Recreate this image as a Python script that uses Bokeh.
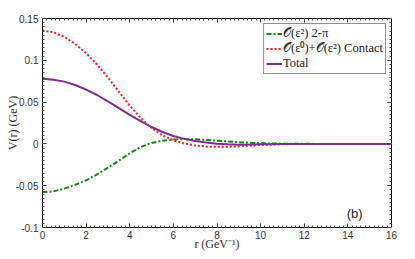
from bokeh.plotting import figure
from bokeh.models import LinearAxis, FixedTicker, Legend, LegendItem, Range1d, Label
from bokeh.embed import file_html
from bokeh.resources import INLINE

# radial distance r (GeV^-1)
r = [0, 0.5, 1, 1.5, 2, 2.5, 3, 3.5, 4, 4.5, 5, 5.5, 6, 6.5, 7, 7.5, 8, 8.5,
     9, 9.5, 10, 10.5, 11, 11.5, 12, 13, 14, 15, 16]

# O(eps^2) two-pion exchange
v_2pi = [-0.0578, -0.0568, -0.0535, -0.049, -0.0435, -0.0365, -0.0285, -0.02,
         -0.0112, -0.0038, 0.0012, 0.0038, 0.0053, 0.0058, 0.0055, 0.0048,
         0.0038, 0.0029, 0.002, 0.0013, 0.0008, 0.0005, 0.0003, 0.00015,
         0.00005, 0.0, 0.0, 0.0, 0.0]

# O(eps^0)+O(eps^2) contact
v_contact = [0.1356, 0.1335, 0.128, 0.1195, 0.1085, 0.095, 0.0795, 0.0625,
             0.0458, 0.031, 0.019, 0.0102, 0.0042, 0.0005, -0.0018, -0.0032,
             -0.0036, -0.0034, -0.0029, -0.0021, -0.0013, -0.0008, -0.0004,
             -0.00015, -0.00005, 0.0, 0.0, 0.0, 0.0]

# total
v_total = [0.0778, 0.0767, 0.0745, 0.0705, 0.065, 0.0585, 0.0508, 0.0428,
           0.0348, 0.0272, 0.0202, 0.0142, 0.0095, 0.006, 0.0035, 0.0016,
           0.0002, -0.0005, -0.0009, -0.0008, -0.0005, -0.0003, -0.0001,
           0.0, 0.0, 0.0, 0.0, 0.0, 0.0]

x_ticks = [0, 2, 4, 6, 8, 10, 12, 14, 16]
y_ticks = [-0.1, -0.05, 0, 0.05, 0.1, 0.15]
y_tick_labels = ["-0.1", "-0.05", "0", "0.05", "0.1", "0.15"]

x_minor = [i * 0.2 for i in range(81)]
y_minor = [-0.1 + i * 0.005 for i in range(51)]

p = figure(width=399, height=255, output_backend="svg",
           toolbar_location=None, x_range=Range1d(0, 16),
           y_range=Range1d(-0.1, 0.15),
           min_border_left=42, min_border_right=8, min_border_top=18,
           min_border_bottom=28)
p.outline_line_color = None
p.grid.grid_line_color = None
p.background_fill_color = "white"

l1 = p.line(r, v_2pi, line_color="#118811", line_width=2, line_dash="5 2 2 2")
l2 = p.line(r, v_contact, line_color="#ff1a1a", line_width=2, line_dash="2 2")
l3 = p.line(r, v_total, line_color="#7d2e8f", line_width=2)


def style(ax, labels=True):
    ax.axis_line_color = "black"
    ax.axis_line_width = 1
    ax.major_tick_in = 4
    ax.major_tick_out = 0
    ax.minor_tick_in = 2
    ax.minor_tick_out = 0
    ax.major_tick_line_color = "#333333"
    ax.minor_tick_line_color = "#555555"
    ax.major_label_text_font = "Liberation Sans"
    ax.major_label_text_font_size = "10px"
    ax.major_label_text_color = "#333333"
    ax.axis_label_text_font = "Liberation Serif"
    ax.axis_label_text_font_size = "12px"
    ax.axis_label_text_font_style = "normal"
    ax.axis_label_text_color = "#333333"
    if not labels:
        ax.major_label_text_font_size = "0px"
        ax.major_label_text_color = None
        ax.major_label_standoff = 0


xax = p.xaxis[0]
xax.ticker = FixedTicker(ticks=x_ticks, minor_ticks=x_minor)
style(xax)
xax.major_label_standoff = 3
xax.axis_label = "r (GeV⁻¹)"
xax.axis_label_standoff = -5

yax = p.yaxis[0]
yax.ticker = FixedTicker(ticks=y_ticks, minor_ticks=y_minor)
yax.major_label_overrides = {t: s for t, s in zip(y_ticks, y_tick_labels)}
style(yax)
yax.major_label_standoff = 4
yax.axis_label = "V(r) (GeV)"
yax.axis_label_standoff = -7

top = LinearAxis(ticker=FixedTicker(ticks=x_ticks, minor_ticks=x_minor))
style(top, labels=False)
p.add_layout(top, "above")
right = LinearAxis(ticker=FixedTicker(ticks=y_ticks, minor_ticks=y_minor))
style(right, labels=False)
p.add_layout(right, "right")

legend = Legend(items=[
    LegendItem(label="𝒪(ε²) 2-π", renderers=[l1]),
    LegendItem(label="𝒪(ε⁰)+𝒪(ε²) Contact", renderers=[l2]),
    LegendItem(label="Total", renderers=[l3]),
], location="top_right")
legend.label_text_font = "Liberation Serif"
legend.label_text_font_size = "12.5px"
legend.label_text_color = "#222222"
legend.border_line_color = "#222222"
legend.border_line_width = 1
legend.background_fill_alpha = 1
legend.glyph_width = 16
legend.glyph_height = 11
legend.label_height = 11
legend.spacing = 0
legend.padding = 2
legend.margin = 5
legend.label_standoff = 1
p.add_layout(legend)

p.add_layout(Label(x=13.95, y=-0.083, text="(b)", text_font="Liberation Sans",
                   text_font_size="13px", text_color="#222222",
                   text_baseline="middle", text_align="left"))

open("out.html", "w").write(file_html(p, INLINE))
